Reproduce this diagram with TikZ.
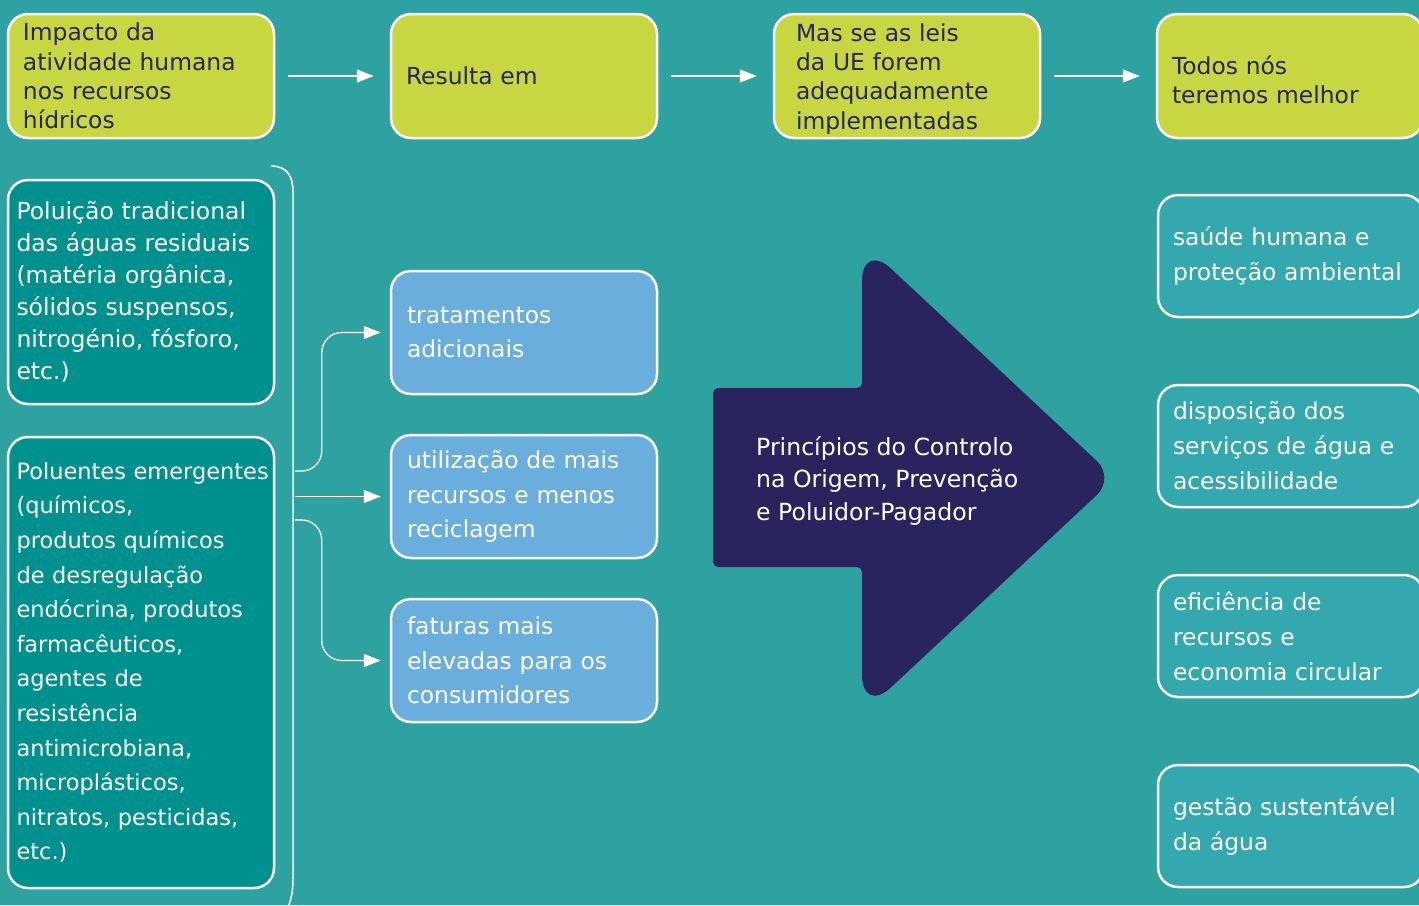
\documentclass[tikz,border=0pt]{standalone}
\usepackage{fontspec}
\setmainfont{DejaVu Sans}
\usetikzlibrary{arrows.meta, positioning}

\definecolor{bgteal}{RGB}{46,162,160}
\definecolor{limeg}{RGB}{200,214,65}
\definecolor{deepteal}{RGB}{0,145,143}
\definecolor{skyblue}{RGB}{106,174,222}
\definecolor{lightteal}{RGB}{51,168,174}
\definecolor{navy}{RGB}{42,36,94}

\tikzset{
  box/.style={draw=white, line width=2.5pt, rounded corners=20pt,
    minimum width=266pt, align=left, inner ysep=0pt},
  topbox/.style={box, fill=limeg, text=navy, minimum height=124pt,
    inner xsep=15pt, text width=236pt,
    font=\fontsize{23.4}{29.3}\selectfont},
  srcbox/.style={box, fill=deepteal, text=white, inner xsep=8.5pt,
    text width=249pt},
  optbox/.style={box, fill=skyblue, text=white, minimum height=123pt,
    inner xsep=16pt, text width=234pt, font=\fontsize{23.4}{34.5}\selectfont},
  gainbox/.style={box, fill=lightteal, text=white, minimum height=122pt,
    inner xsep=15pt, text width=236pt, font=\fontsize{23.4}{35}\selectfont},
  flow/.style={white, line width=1.3pt, -{Triangle[length=17pt, width=13pt]}}
}

\begin{document}
\begin{tikzpicture}[x=1pt, y=-1pt, node distance=114.5pt]

  \useasboundingbox (0,0) rectangle (1419,905);
  \clip (0,0) rectangle (1419,905);
  \fill[bgteal] (0,0) rectangle (1419,905);

  % Top row
  \node[topbox] (impact) at (141,76) {Impacto da\\atividade humana\\nos recursos\\hídricos};
  \node[topbox, right=of impact] (result) {Resulta em};
  \node[topbox, right=of result, inner xsep=22pt, text width=222pt, text depth=87pt] (laws) {Mas se as leis\\da UE forem\\adequadamente\\implementadas};
  \node[topbox, right=of laws, text depth=22pt] (better) {Todos nós\\teremos melhor};
  \draw[flow, shorten <=13pt, shorten >=16pt] (impact) -- (result);
  \draw[flow, shorten <=13pt, shorten >=16pt] (result) -- (laws);
  \draw[flow, shorten <=13pt, shorten >=16pt] (laws) -- (better);

  % Pollution sources
  \node[srcbox, minimum height=224pt, font=\fontsize{23.5}{32}\selectfont] (trad) at (141,292)
    {Poluição tradicional\\das águas residuais\\(matéria orgânica,\\sólidos suspensos,\\nitrogénio, fósforo,\\etc.)};
  \node[srcbox, minimum height=451pt, font=\fontsize{22.5}{34.6}\selectfont] (emerg) at (141,662.5)
    {\mbox{Poluentes emergentes}\\(químicos,\\produtos químicos\\de desregulação\\endócrina, produtos\\farmacêuticos,\\agentes de\\resistência\\antimicrobiana,\\microplásticos,\\nitratos, pesticidas,\\etc.)};

  % Brace
  \draw[white, line width=1.5pt] (271,166) .. controls (287,166) and (293,176) .. (293,192)
    -- (293,878) .. controls (293,893) and (291,900) .. (287,910);

  % Consequences
  \node[optbox] (treat) at (524,332.5) {tratamentos\\adicionais};
  \node[optbox, below=38.5pt of treat] (usage) {utilização de mais\\recursos e menos\\reciclagem};
  \node[optbox, below=38.5pt of usage] (bills) {faturas mais\\elevadas para os\\consumidores};

  \coordinate (b1) at (295,471);
  \coordinate (b2) at (295,496.5);
  \coordinate (b3) at (295,520);
  \draw[flow, rounded corners=20pt] (b1) -| ([xshift=-68pt]treat.west) -- ([xshift=-9pt]treat.west);
  \draw[flow] (b2) -- ([xshift=-9pt]usage.west);
  \draw[flow, rounded corners=20pt] (b3) -| ([xshift=-68pt]bills.west) -- ([xshift=-9pt]bills.west);

  % Big arrow
  \fill[navy] (713,478) [rounded corners=5pt] -- (713,388) -- (862,388)
    [rounded corners=40pt] -- (862,241.5) [rounded corners=25pt] -- (1115,478)
    [rounded corners=40pt] -- (862,714.5)
    [rounded corners=5pt] -- (862,567) -- (713,567) -- cycle;
  \node[text=white, align=left, anchor=west, inner sep=0pt, font=\fontsize{23.6}{32.5}\selectfont] (principles) at (756,481)
    {Princípios do Controlo\\na Origem, Prevenção\\e Poluidor-Pagador};

  % Benefits
  \node[gainbox] (health) at (1291,256) {saúde humana e\\proteção ambiental};
  \node[gainbox, below=65.5pt of health] (access) {disposição dos\\serviços de água e\\acessibilidade};
  \node[gainbox, below=65.5pt of access] (circular) {eficiência de\\recursos e\\economia circular};
  \node[gainbox, below=65.5pt of circular] (manage) {gestão sustentável\\da água};

\end{tikzpicture}
\end{document}
